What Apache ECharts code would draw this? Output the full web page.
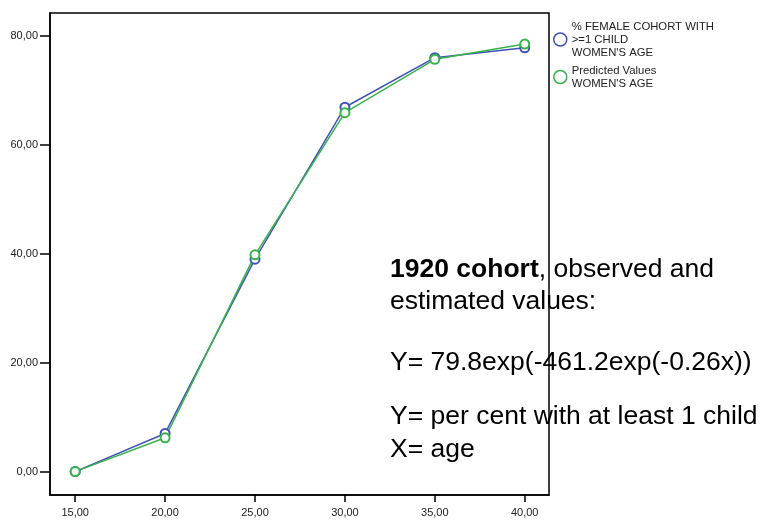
<!DOCTYPE html>
<html><head><meta charset="utf-8">
<script src="https://cdn.jsdelivr.net/npm/echarts@6/dist/echarts.min.js"></script>
<style>html,body{margin:0;padding:0;background:#fff}#c{width:763px;height:520px}</style>
</head><body><div id="c"></div>
<script>
var ages = [15, 20, 25, 30, 35, 40];
var observed = [0.0, 7.0, 39.0, 66.9, 76.0, 77.8];
var predicted = [0.0, 6.2, 39.8, 65.9, 75.7, 78.5];
var xTicks = [15, 20, 25, 30, 35, 40];
var yTicks = [0, 20, 40, 60, 80];
var seriesNames = ["% FEMALE COHORT WITH\n>=1 CHILD\nWOMEN'S AGE", "Predicted Values\nWOMEN'S AGE"];
var noteLines = ["1920 cohort", ", observed and", "estimated values:", "Y= 79.8exp(-461.2exp(-0.26x))", "Y= per cent with at least 1 child", "X= age"];

var BLUE = '#4052b5', GREEN = '#36b34a';
var FONT = 'Liberation Sans, Arial, sans-serif';
var NOTE_SIZE = 26.5;
function fmt(v){ return v.toFixed(2).replace('.', ','); }
function pairs(ys){ return ages.map(function(a,i){ return [a, ys[i]]; }); }
function note(y, text, rich){
  var s = {text: text, x: 0, y: 0, fontFamily: FONT, fontSize: NOTE_SIZE, fill: '#000', align: 'left', verticalAlign: 'middle'};
  if (rich) s.rich = rich;
  return {type: 'text', x: 390, y: y, style: s, z: 10};
}

var chart = echarts.init(document.getElementById('c'), null, {renderer:'canvas'});
chart.setOption({
  animation: false,
  backgroundColor: '#fff',
  grid: {left: 50, top: 13, right: 214, bottom: 25, show: true, borderColor: '#000', borderWidth: 1.5, backgroundColor: 'transparent'},
  xAxis: {
    type: 'value', min: 13.6, max: 41.35,
    axisLine: {show: true, onZero: false, lineStyle: {color: '#000', width: 1.5}},
    axisTick: {show: true, length: 7, customValues: xTicks, lineStyle: {color: '#000', width: 1.5}},
    axisLabel: {customValues: xTicks, formatter: fmt, color: '#222', fontFamily: FONT, fontSize: 11, margin: 12},
    splitLine: {show: false}
  },
  yAxis: {
    type: 'value', min: -4.3, max: 84.2,
    axisLine: {show: true, onZero: false, lineStyle: {color: '#000', width: 1.5}},
    axisTick: {show: true, length: 10, customValues: yTicks, lineStyle: {color: '#000', width: 1.5}},
    axisLabel: {customValues: yTicks, formatter: fmt, color: '#222', fontFamily: FONT, fontSize: 11, margin: 12},
    splitLine: {show: false}
  },
  legend: {
    orient: 'vertical', left: 548, top: 15, itemGap: 5, itemWidth: 13, itemHeight: 13,
    icon: 'circle',
    textStyle: {fontFamily: FONT, fontSize: 11.3, color: '#222', lineHeight: 13},
    data: [
      {name: seriesNames[0], itemStyle: {color: '#fff', borderColor: BLUE, borderWidth: 1.5}},
      {name: seriesNames[1], itemStyle: {color: '#fff', borderColor: GREEN, borderWidth: 1.5}}
    ]
  },
  series: [
    {name: seriesNames[0], type: 'line', data: pairs(observed), symbol: 'emptyCircle', symbolSize: 9,
     lineStyle: {color: BLUE, width: 1.5}, itemStyle: {color: BLUE, borderWidth: 1.3}},
    {name: seriesNames[1], type: 'line', data: pairs(predicted), symbol: 'emptyCircle', symbolSize: 9,
     lineStyle: {color: GREEN, width: 1.5}, itemStyle: {color: GREEN, borderWidth: 1.3}}
  ],
  graphic: [
    note(270, '{b|' + noteLines[0] + '}' + noteLines[1], {b: {fontWeight: 'bold', fontFamily: FONT, fontSize: NOTE_SIZE, fill: '#000'}}),
    note(302, noteLines[2]),
    note(363, noteLines[3]),
    note(417, noteLines[4]),
    note(450, noteLines[5])
  ]
});
</script></body></html>
